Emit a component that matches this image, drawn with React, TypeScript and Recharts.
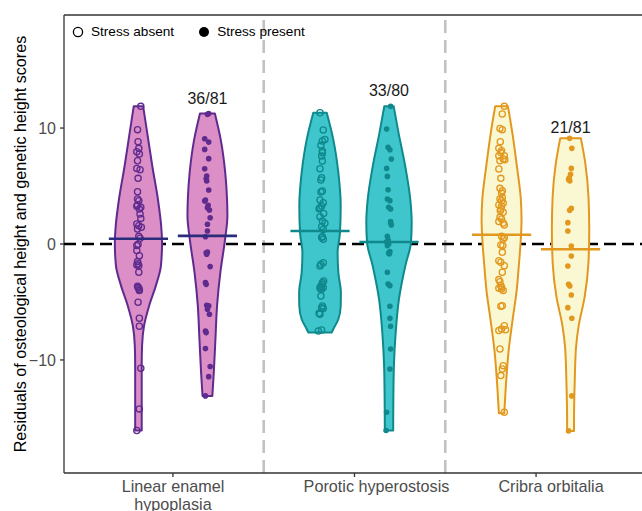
import React from 'react';
import { ComposedChart, Scatter, XAxis, YAxis, ReferenceLine, Curve } from 'recharts';

type Pair = [number, number];

// ---------- data ----------
const CATEGORIES = ['Linear enamel\nhypoplasia', 'Porotic hyperostosis', 'Cribra orbitalia'];
const CATEGORY_POSITIONS = [1, 2, 3];
const Y_TICKS = [-10, 0, 10];
const Y_TITLE = 'Residuals of osteological height and genetic height scores';
const PRESENT_COUNTS = ['36/81', '33/80', '21/81'];
const COUNT_LABEL_Y = [12.05, 12.75, 9.6];

// violin density profiles: [value, half-width in category units]
const LEH_ABSENT_DENSITY: Pair[] = [[11.87, 0.026], [9.63, 0.048], [6.75, 0.076], [3.88, 0.107], [1.58, 0.125], [0.14, 0.13], [-1.87, 0.124], [-3.59, 0.096], [-5.32, 0.059], [-7.04, 0.031], [-8.77, 0.02], [-10.49, 0.018], [-13.36, 0.018], [-16.09, 0.018]];
const LEH_PRESENT_DENSITY: Pair[] = [[11.26, 0.041], [9.02, 0.073], [6.15, 0.098], [3.85, 0.108], [2.41, 0.11], [0.4, 0.097], [-2.47, 0.071], [-5.34, 0.053], [-8.22, 0.044], [-11.09, 0.035], [-13.1, 0.027]];
const PH_ABSENT_DENSITY: Pair[] = [[11.32, 0.037], [9.02, 0.073], [6.15, 0.101], [3.28, 0.114], [0.98, 0.11], [-0.75, 0.097], [-2.47, 0.101], [-4.19, 0.115], [-5.34, 0.114], [-6.49, 0.101], [-7.35, 0.073], [-7.64, 0.064]];
const PH_PRESENT_DENSITY: Pair[] = [[11.87, 0.026], [9.63, 0.052], [6.75, 0.089], [3.88, 0.117], [1.87, 0.125], [0.14, 0.121], [-1.87, 0.09], [-4.74, 0.055], [-7.61, 0.037], [-10.49, 0.027], [-13.36, 0.024], [-16.09, 0.023]];
const CO_ABSENT_DENSITY: Pair[] = [[11.87, 0.035], [9.63, 0.059], [6.75, 0.084], [3.88, 0.106], [2.16, 0.11], [0.43, 0.106], [-1.87, 0.095], [-4.17, 0.082], [-6.18, 0.064], [-9.05, 0.04], [-11.93, 0.025], [-14.6, 0.015]];
const CO_PRESENT_DENSITY: Pair[] = [[9.11, 0.057], [6.87, 0.082], [3.99, 0.099], [1.12, 0.103], [-1.75, 0.098], [-4.63, 0.077], [-6.93, 0.046], [-8.94, 0.03], [-11.81, 0.023], [-15.26, 0.019], [-16.12, 0.019]];

// individual observations: [residual, horizontal jitter]
const LEH_ABSENT_POINTS: Pair[] = [[11.87, 0.013], [9.86, -0.005], [8.82, -0.002], [8.25, 0.002], [7.96, -0.009], [7.76, 0.005], [7.18, -0.005], [6.52, -0.009], [6.41, 0.009], [5.66, -0.002], [4.51, -0.005], [3.88, -0.005], [3.74, 0.002], [3.36, -0.005], [3.25, -0.009], [3.16, 0.013], [3.02, 0.005], [2.59, 0.009], [2.21, 0.013], [1.72, -0.009], [1.58, 0.002], [1.44, 0.016], [1.29, -0.005], [0.66, 0.002], [0.49, 0.009], [-0.03, -0.002], [-0.14, -0.009], [-0.57, -0.009], [-1.01, 0.005], [-1.52, -0.005], [-1.7, -0.002], [-1.81, -0.009], [-1.87, 0.002], [-2.44, 0.002], [-3.65, -0.005], [-3.74, -0.002], [-3.82, 0.002], [-3.94, 0.005], [-4.02, 0.005], [-5.03, -0.002], [-6.41, 0.005], [-7.1, 0.005], [-10.72, 0.013], [-14.22, 0.005], [-16.09, -0.009]];
const LEH_PRESENT_POINTS: Pair[] = [[11.26, 0.007], [11.18, 0], [9.08, -0.015], [8.79, 0.007], [8.16, -0.015], [7.36, 0.007], [6.49, -0.015], [5.86, -0.004], [5.63, -0.007], [5.43, -0.004], [4.66, 0.007], [3.79, -0.011], [3.71, -0.015], [3.33, 0.004], [3.13, 0], [2.93, 0.011], [2.27, 0.015], [1.7, 0], [1.12, 0], [0.63, -0.011], [-0.69, 0], [-0.75, -0.007], [-0.89, -0.004], [-1.95, 0.015], [-3.33, -0.011], [-3.48, -0.007], [-5.29, -0.004], [-5.34, 0.007], [-5.63, 0], [-6.06, 0.011], [-7.5, -0.011], [-7.64, -0.007], [-9.02, -0.011], [-10.57, 0.015], [-11.44, 0.007], [-13.1, -0.011]];
const PH_ABSENT_POINTS: Pair[] = [[11.32, 0], [9.83, 0.018], [9.02, 0.027], [8.88, 0.013], [8.51, 0.005], [8.02, 0.013], [7.87, 0.013], [7.59, 0.009], [7.16, 0.013], [6.49, 0], [5.72, 0.009], [5.52, 0.005], [4.57, 0.013], [4.48, 0.005], [3.79, 0], [3.56, 0.018], [3.28, 0.009], [3.13, 0], [3.05, -0.005], [2.64, 0.02], [2.36, 0], [1.98, 0.013], [1.78, 0.027], [1.49, 0.009], [1.26, 0.018], [0.63, 0.013], [0.55, 0.009], [0.4, 0.018], [-1.61, 0.018], [-1.75, 0.005], [-1.9, 0], [-3.19, 0.02], [-3.33, 0.013], [-3.48, 0.013], [-3.62, 0.005], [-3.76, 0], [-3.76, 0.018], [-3.85, 0.002], [-3.91, 0.009], [-4.48, 0.005], [-5.34, 0.013], [-5.49, 0.009], [-5.57, 0.018], [-5.98, -0.005], [-6.06, 0], [-7.41, 0.009], [-7.5, -0.009]];
const PH_PRESENT_POINTS: Pair[] = [[11.87, 0.009], [9.91, -0.013], [8.33, -0.005], [8.13, 0.005], [7.33, 0.013], [6.52, -0.013], [5.83, -0.009], [4.68, -0.005], [3.88, -0.009], [3.74, 0.005], [3.16, -0.002], [3.02, 0.009], [1.93, 0.009], [1.81, 0.009], [1.64, 0.013], [0.66, -0.009], [0.37, -0.005], [0.2, -0.013], [0, -0.002], [-0.14, -0.009], [-0.66, 0.005], [-0.78, -0.002], [-0.86, 0.002], [-2.44, -0.009], [-3.45, -0.005], [-3.59, 0.005], [-5.37, 0.005], [-6.41, 0.005], [-7.1, 0.009], [-9.05, 0.009], [-10.78, 0.005], [-14.51, -0.013], [-16.09, -0.016]];
const CO_ABSENT_POINTS: Pair[] = [[11.87, 0.015], [11.21, 0.004], [9.97, -0.009], [9.86, 0.004], [8.82, -0.007], [8.25, -0.015], [8.05, 0], [7.9, -0.004], [7.61, -0.015], [7.61, 0.015], [7.33, 0.009], [7.27, 0.018], [7.18, -0.009], [6.47, -0.015], [5.66, -0.004], [4.8, -0.009], [4.6, 0.004], [4.4, 0], [4.02, 0.004], [3.88, -0.009], [3.74, 0], [3.53, 0.009], [3.36, -0.015], [3.25, 0], [3.02, -0.004], [2.87, -0.007], [2.73, 0.009], [2.3, -0.009], [2.16, 0], [1.93, -0.015], [1.81, 0.009], [1.64, 0.015], [0.66, 0], [0.57, 0.015], [0.43, 0.009], [-0.09, -0.004], [-0.14, 0.007], [-0.72, 0.004], [-1.44, -0.015], [-1.58, -0.004], [-1.87, 0.015], [-2.44, 0.004], [-3.07, -0.015], [-3.25, -0.009], [-3.59, -0.004], [-3.74, 0], [-3.82, -0.015], [-3.88, 0], [-4.02, 0.009], [-5.32, 0.004], [-5.37, -0.004], [-7.04, 0.015], [-7.33, 0], [-7.39, 0.022], [-7.47, -0.015], [-9.05, -0.009], [-10.49, 0.009], [-10.78, 0.004], [-11.35, -0.004], [-14.51, 0.015]];
const CO_PRESENT_POINTS: Pair[] = [[9.11, -0.005], [8.25, 0.007], [6.52, 0.004], [6.01, 0], [5.72, -0.007], [5.57, -0.011], [5.43, -0.004], [3.07, 0.004], [2.9, -0.005], [1.84, -0.015], [1.12, -0.015], [-0.17, 0.004], [-1.03, 0.004], [-1.9, -0.015], [-3.48, -0.011], [-3.62, -0.004], [-4.4, 0.004], [-5.49, -0.015], [-6.41, 0.007], [-13.1, 0.007], [-16.12, -0.011]];

const MEANS_ABSENT = [0.45, 1.12, 0.8];
const MEANS_PRESENT = [0.7, 0.17, -0.45];

// ---------- layout / style ----------
const X_DOMAIN: [number, number] = [0.4, 3.6];
const Y_DOMAIN: [number, number] = [-19.75, 19.75];
const DODGE = 0.19;
const MEAN_HALF = 0.163;
const TICK_DX = [0, 22, 15];

const PALETTE = [
  { fill: '#dc8fc6', stroke: '#5f2b8e', mean: '#2b2c7c' },
  { fill: '#3fc6cd', stroke: '#0f898c', mean: '#0f898c' },
  { fill: '#faf8d2', stroke: '#e2981f', mean: '#e2981f' },
];

const DENSITIES_ABSENT = [LEH_ABSENT_DENSITY, PH_ABSENT_DENSITY, CO_ABSENT_DENSITY];
const DENSITIES_PRESENT = [LEH_PRESENT_DENSITY, PH_PRESENT_DENSITY, CO_PRESENT_DENSITY];
const POINTS_ABSENT = [LEH_ABSENT_POINTS, PH_ABSENT_POINTS, CO_ABSENT_POINTS];
const POINTS_PRESENT = [LEH_PRESENT_POINTS, PH_PRESENT_POINTS, CO_PRESENT_POINTS];

function outline(center: number, density: Pair[]) {
  const sorted = [...density].sort((a, b) => b[0] - a[0]);
  const right = sorted.map(([y, w]) => ({ x: center + w, y }));
  const left = sorted.map(([y, w]) => ({ x: center - w, y }));
  return [...right, ...left];
}

function pts(center: number, points: Pair[]) {
  return points.map(([y, j]) => ({ x: center + j, y }));
}

const Empty = () => <g />;

const ViolinPath = (props: any) => {
  const { points, vFill, vStroke } = props;
  if (!points || points.length < 4) return null;
  const n = Math.floor(points.length / 2);
  return (
    <Curve
      type="monotone"
      layout="vertical"
      points={points.slice(0, n)}
      baseLine={points.slice(n)}
      fill={vFill}
      stroke={vStroke}
      strokeWidth={2}
      strokeLinejoin="round"
    />
  );
};

const makeHollow = (color: string) => (p: any) =>
  <circle cx={p.cx} cy={p.cy} r={3.1} fill="none" stroke={color} strokeWidth={1.3} />;
const makeFilled = (color: string) => (p: any) =>
  <circle cx={p.cx} cy={p.cy} r={2.8} fill={color} stroke="none" />;
const HOLLOW = PALETTE.map((c) => makeHollow(c.stroke));
const FILLED = PALETTE.map((c) => makeFilled(c.stroke));

const CountLabel = (p: any) => (
  <text x={p.cx} y={p.cy} textAnchor="middle" fontSize={16} fill="#1a1a1a">
    {p.payload.label}
  </text>
);

const XTick = (props: any) => {
  const { x, y, payload } = props;
  const idx = CATEGORY_POSITIONS.indexOf(payload.value);
  if (idx < 0) return null;
  const lines = CATEGORIES[idx].split('\n');
  return (
    <text x={x + TICK_DX[idx]} y={y} textAnchor="middle" fontSize={16.2} fill="#4d4d4d">
      {lines.map((l, i) => (
        <tspan key={i} x={x + TICK_DX[idx]} dy={i === 0 ? '0.71em' : 18}>
          {l}
        </tspan>
      ))}
    </text>
  );
};

const YTitle = (props: any) => {
  const vb = props && props.viewBox ? props.viewBox : { x: 0, y: 15, width: 64, height: 458 };
  const cx = vb.x + 20;
  const cy = vb.y + vb.height / 2;
  return (
    <text x={cx} y={cy} transform={`rotate(-90 ${cx} ${cy})`} textAnchor="middle" dy="0.36em" fontSize={16.2} fill="#000">
      {Y_TITLE}
    </text>
  );
};

export default function App() {
  const series: React.ReactNode[] = [];
  CATEGORY_POSITIONS.forEach((pos, i) => {
    const c = PALETTE[i];
    const ca = pos - DODGE;
    const cp = pos + DODGE;
    series.push(
      <Scatter key={`va${i}`} data={outline(ca, DENSITIES_ABSENT[i])} shape={Empty} lineType="joint"
        line={<ViolinPath vFill={c.fill} vStroke={c.stroke} />} isAnimationActive={false} />,
      <Scatter key={`vp${i}`} data={outline(cp, DENSITIES_PRESENT[i])} shape={Empty} lineType="joint"
        line={<ViolinPath vFill={c.fill} vStroke={c.stroke} />} isAnimationActive={false} />,
      <Scatter key={`pa${i}`} data={pts(ca, POINTS_ABSENT[i])} shape={HOLLOW[i]} isAnimationActive={false} />,
      <Scatter key={`pp${i}`} data={pts(cp, POINTS_PRESENT[i])} shape={FILLED[i]} isAnimationActive={false} />,
      <Scatter key={`ma${i}`} data={[{ x: ca - MEAN_HALF, y: MEANS_ABSENT[i] }, { x: ca + MEAN_HALF, y: MEANS_ABSENT[i] }]}
        shape={Empty} lineType="joint" line={{ stroke: c.mean, strokeWidth: 2.6 }} isAnimationActive={false} />,
      <Scatter key={`mp${i}`} data={[{ x: cp - MEAN_HALF, y: MEANS_PRESENT[i] }, { x: cp + MEAN_HALF, y: MEANS_PRESENT[i] }]}
        shape={Empty} lineType="joint" line={{ stroke: c.mean, strokeWidth: 2.6 }} isAnimationActive={false} />,
    );
  });

  const countData = CATEGORY_POSITIONS.map((pos, i) => ({ x: pos + DODGE, y: COUNT_LABEL_Y[i], label: PRESENT_COUNTS[i] }));

  return (
    <div style={{ position: 'absolute', left: 0, top: 0, width: 642, height: 511, overflow: 'hidden', fontFamily: '"Liberation Sans", Arial, sans-serif', background: '#fff' }}>
      <ComposedChart width={660} height={511} margin={{ top: 15, right: 15, bottom: 0, left: 0 }}>
        <XAxis type="number" dataKey="x" domain={X_DOMAIN} ticks={CATEGORY_POSITIONS} allowDataOverflow
          height={38} tick={<XTick />} tickSize={4} tickMargin={3}
          axisLine={{ stroke: '#333', strokeWidth: 1.3 }} tickLine={{ stroke: '#333', strokeWidth: 1.3 }} />
        <YAxis type="number" dataKey="y" domain={Y_DOMAIN} ticks={Y_TICKS} allowDataOverflow width={64}
          tickFormatter={(v: number) => (v < 0 ? `\u2212${Math.abs(v)}` : `${v}`)}
          tick={{ fill: '#4d4d4d', fontSize: 16 }} tickSize={4} tickMargin={4}
          axisLine={{ stroke: '#333', strokeWidth: 1.3 }} tickLine={{ stroke: '#333', strokeWidth: 1.3 }}
          label={{ content: (p: any) => <YTitle {...p} /> }} />
        <ReferenceLine y={Y_DOMAIN[1]} stroke="#333" strokeWidth={1.3} />
        <ReferenceLine x={1.5} stroke="#c2c2c2" strokeWidth={2.6} strokeDasharray="13 7" />
        <ReferenceLine x={2.5} stroke="#c2c2c2" strokeWidth={2.6} strokeDasharray="13 7" />
        <Scatter data={[{ x: X_DOMAIN[0], y: 0 }, { x: X_DOMAIN[1], y: 0 }]} shape={Empty} lineType="joint"
          line={{ stroke: '#000', strokeWidth: 2.6, strokeDasharray: '12 6' }} isAnimationActive={false} />
        {series}
        <Scatter data={countData} shape={CountLabel} isAnimationActive={false} />
      </ComposedChart>
      <div style={{ position: 'absolute', left: 72, top: 24, display: 'flex', alignItems: 'center', fontSize: 13.6, lineHeight: '16px', color: '#000' }}>
        <svg width={12} height={12}><circle cx={6} cy={6} r={4.6} fill="none" stroke="#000" strokeWidth={1.3} /></svg>
        <span style={{ marginLeft: 7 }}>Stress absent</span>
        <svg width={12} height={12} style={{ marginLeft: 24 }}><circle cx={6} cy={6} r={5} fill="#000" /></svg>
        <span style={{ marginLeft: 7 }}>Stress present</span>
      </div>
    </div>
  );
}
